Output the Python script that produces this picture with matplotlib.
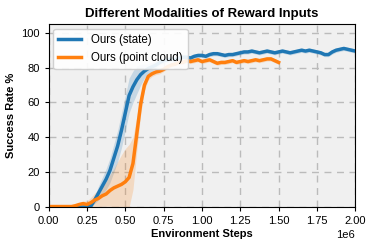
import numpy as np
import matplotlib
matplotlib.use("Agg")
import matplotlib.pyplot as plt

plt.rcParams['font.family'] = ['Liberation Sans', 'DejaVu Sans']

# environment steps (x 1e6), step 0.025
steps_state = np.arange(81) * 0.025e6
steps_pc = np.arange(61) * 0.025e6

# Ours (state): mean success rate %
state_mean = [
    0, 0, 0, 0, 0, 0, 0, 0, 0, 0,
    0, 0.5, 4, 8, 12, 16, 21, 28, 35, 44,
    54, 64, 69, 73, 76, 78, 79.5, 80.5, 81.5, 83,
    84, 84.5, 85, 84.5, 85.5, 86, 86, 85.5, 86.5, 87,
    87, 86.5, 87.5, 88, 88, 87.5, 87, 87.5, 87.5, 88,
    88.5, 89, 89, 89.5, 89, 88.5, 89, 89.5, 89, 88.5,
    89, 89.5, 89, 88.5, 89, 89.5, 90, 89.5, 90, 89.5,
    89, 88.5, 87.5, 87.5, 89, 90, 90.5, 91, 90.5, 90,
    89.5,
]
state_std = [
    0, 0, 0, 0, 0, 0, 0, 0, 0, 0,
    0, 1, 2, 4, 5, 6, 7, 8, 9, 10,
    10, 10, 9, 8, 6, 4, 3, 2.5, 2, 1.5,
    1.5, 1.2, 1.2, 1.2, 1.2, 1.2, 1.2, 1.2, 1.2, 1.2,
    1.2, 1.2, 1.2, 1.2, 1.2, 1.2, 1.2, 1.2, 1.2, 1.2,
    1.2, 1.2, 1.2, 1.2, 1.2, 1.2, 1.2, 1.2, 1.2, 1.2,
    1.2, 1.2, 1.2, 1.2, 1.2, 1.2, 1.2, 1.2, 1.2, 1.2,
    1.2, 1.2, 1.2, 1.2, 1.2, 1.2, 1.2, 1.2, 1.2, 1.2,
    1.2,
]

# Ours (point cloud): mean success rate %
pc_mean = [
    0.3, 0.3, 0.3, 0.3, 0.3, 0.3, 0.3, 0.8, 1.5, 2,
    1.5, 2.5, 4, 5, 6.5, 7.5, 9.5, 11, 12, 13,
    14.5, 17, 25, 42, 59, 70, 75, 76.5, 77.5, 78,
    79, 80.5, 81.5, 82, 83, 83, 84, 83.5, 84, 84.5,
    83.5, 84, 84.5, 83.5, 82.5, 83, 83, 83.5, 84, 83,
    83.5, 84, 83.5, 84, 84.5, 84, 84.5, 85, 85, 84,
    83,
]
pc_std = [
    0, 0, 0, 0, 0, 0, 0, 0.5, 1, 1.5,
    2, 3, 4, 5, 6, 7, 9, 11, 14, 17,
    19, 19, 15, 10, 6, 3, 2, 1.5, 1.5, 1.5,
    1.2, 1.2, 1.2, 1.2, 1.2, 1.2, 1.2, 1.2, 1.2, 1.2,
    1.2, 1.2, 1.2, 1.2, 1.2, 1.2, 1.2, 1.2, 1.2, 1.2,
    1.2, 1.2, 1.2, 1.2, 1.2, 1.2, 1.2, 1.2, 1.2, 1.2,
    1.2,
]

fig = plt.figure(figsize=(3.74, 2.48), dpi=100)
ax = fig.add_axes([0.130, 0.165, 0.820, 0.738])
ax.set_facecolor('#f0f0f0')

for steps, mean, std, color, label in [
    (steps_state, state_mean, state_std, '#1f77b4', 'Ours (state)'),
    (steps_pc, pc_mean, pc_std, '#ff7f0e', 'Ours (point cloud)'),
]:
    m = np.array(mean)
    s = np.array(std)
    ax.fill_between(steps, np.clip(m - s, 0, None), m + s, color=color, alpha=0.2, lw=0)
    ax.plot(steps, m, color=color, lw=2.5, label=label)

ax.set_xlim(0, 2e6)
ax.set_ylim(0, 105)
ax.set_xticks(np.arange(0, 2.01e6, 0.25e6))
ax.set_yticks([0, 20, 40, 60, 80, 100])
ax.grid(True, ls=(0, (5, 4)), color='#bbbbbb', lw=1)
ax.set_axisbelow(True)
ax.tick_params(labelsize=8, length=3)
ax.xaxis.get_offset_text().set_fontsize(8)

ax.set_title('Different Modalities of Reward Inputs', fontsize=9.5, fontweight='bold', pad=5)
ax.set_xlabel('Environment Steps', fontsize=8, fontweight='bold', labelpad=2)
ax.set_ylabel('Success Rate %', fontsize=8, fontweight='bold', labelpad=4)
ax.legend(loc='upper left', fontsize=8.3, framealpha=0.9, borderpad=0.45,
          handlelength=2.0, borderaxespad=0.4)

fig.savefig('out.png', dpi=100)
